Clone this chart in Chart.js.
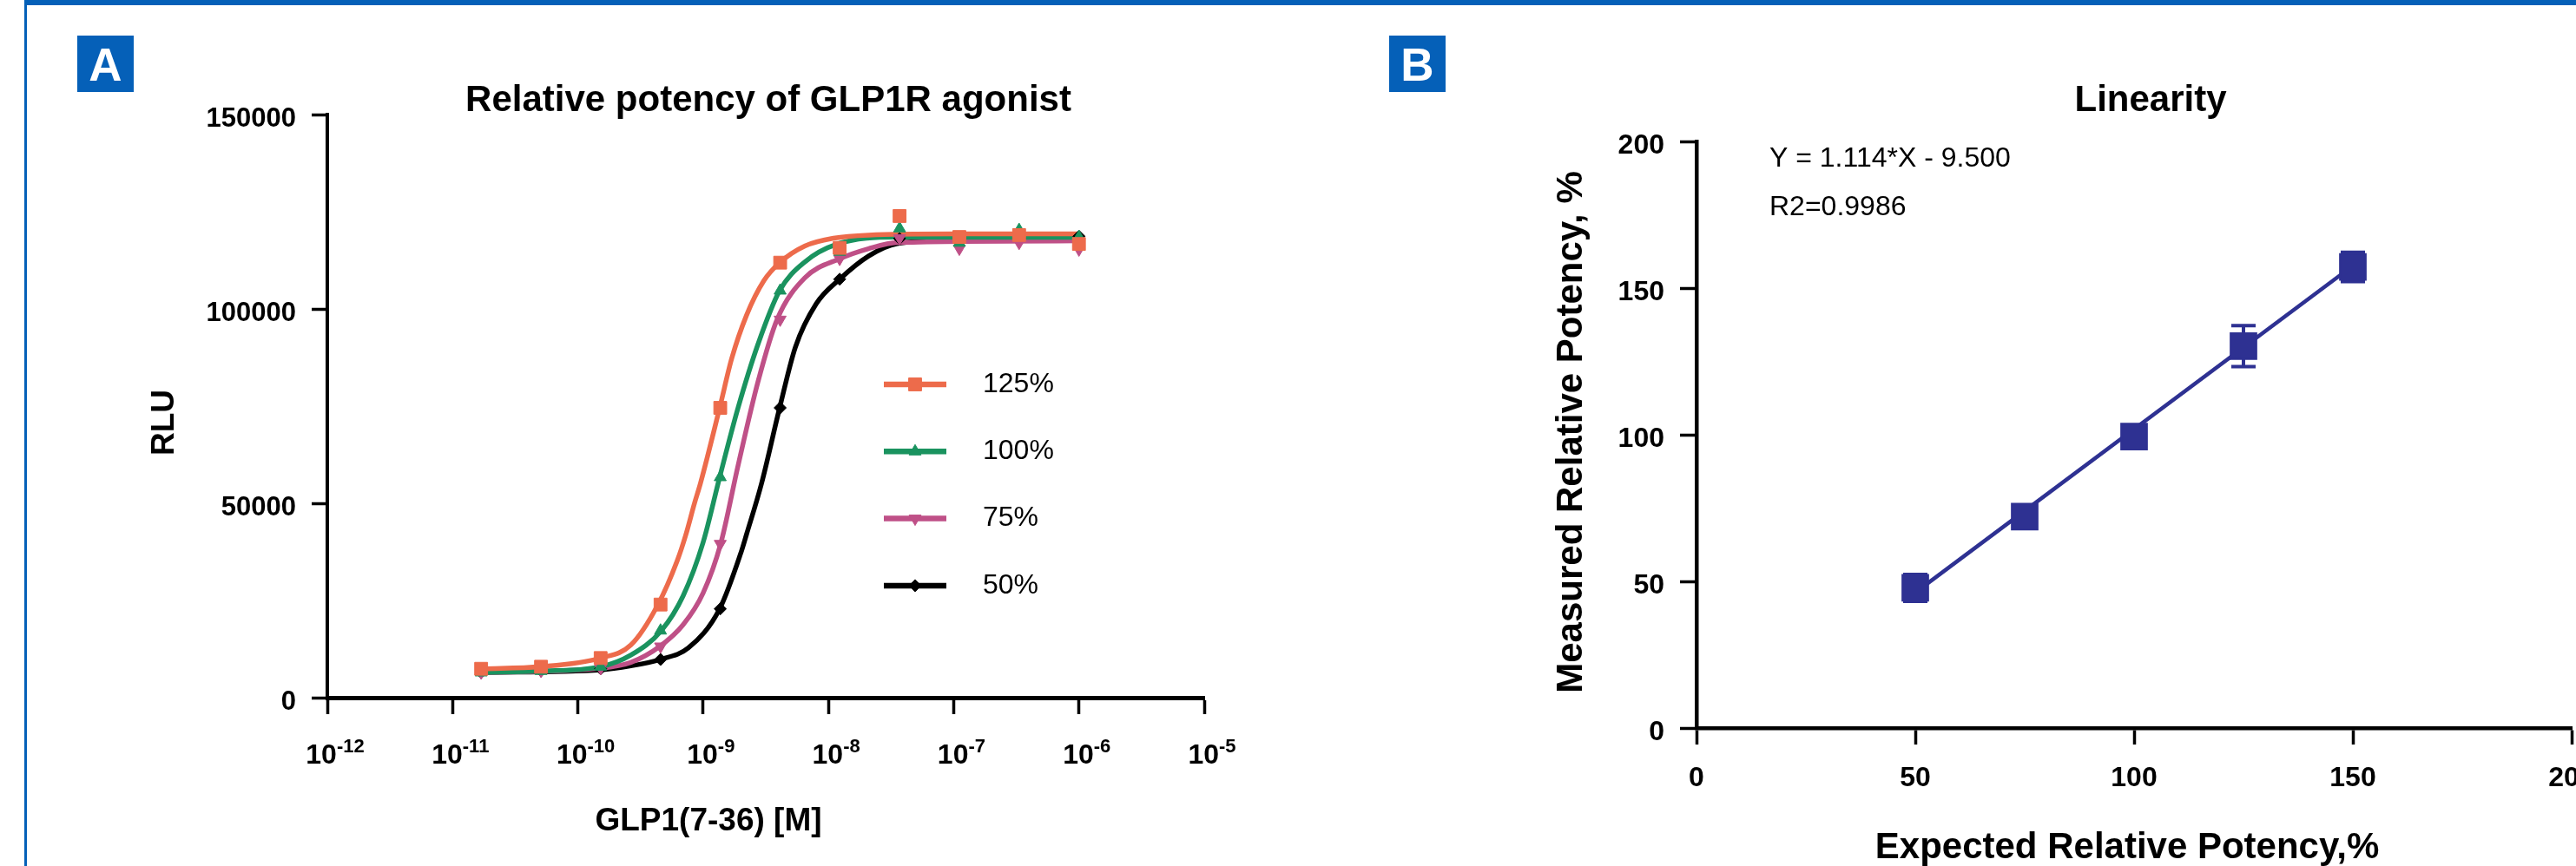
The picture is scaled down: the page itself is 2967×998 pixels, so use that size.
<!DOCTYPE html>
<html>
<head>
<meta charset="utf-8">
<script src="https://cdn.jsdelivr.net/npm/chart.js@4.4.0/dist/chart.umd.min.js"></script>
<style>
  html, body { margin: 0; padding: 0; background: #fff; overflow: hidden; }
  body { width: 2967px; height: 998px; position: relative; font-family: "Liberation Sans", Arial, Helvetica, sans-serif; }
  #topBar { position: absolute; left: 28px; top: 0; width: 2939px; height: 6px; background: #0560b8; }
  #leftBar { position: absolute; left: 28px; top: 0; width: 3px; height: 998px; background: #0560b8; }
  .tag { position: absolute; top: 41px; width: 65px; height: 65px; background: #0560b8; color: #fff;
         font-weight: bold; font-size: 53px; line-height: 67px; text-align: center; }
  #tagA { left: 89px; }
  #tagB { left: 1600px; }
  #chartA { position: absolute; left: 0; top: 0; }
  #chartB { position: absolute; left: 1500px; top: 0; }
</style>
</head>
<body>
<div id="topBar"></div>
<div id="leftBar"></div>
<canvas id="chartA" width="1500" height="998"></canvas>
<canvas id="chartB" width="1600" height="998"></canvas>
<div class="tag" id="tagA">A</div>
<div class="tag" id="tagB">B</div>

<script>
// ==================== DATA : PANEL A (dose response) ====================
const concM = [1.69e-11, 5.08e-11, 1.52e-10, 4.57e-10, 1.37e-9, 4.12e-9, 1.23e-8, 3.70e-8, 1.11e-7, 3.33e-7, 1.0e-6];
const rlu125 = [7430, 7960, 10200, 23950, 74550, 111900, 115700, 123900, 118500, 119000, 116700];
const rlu100 = [6470, 6850, 7960, 17250, 56700, 104700, 114700, 120700, 117000, 120300, 118500];
const rlu75  = [6470, 6900, 7590, 13170, 39570, 97250, 112900, 118200, 115500, 117000, 115300];
const rlu50  = [6470, 6900, 7440, 9820, 22840, 74550, 107650, 118070, 117500, 118200, 118700];

// fitted curves: [concentration, RLU]
const fit125 = [[1.69e-11, 7430], [5.02e-11, 7960], [1.52e-10, 10200], [2.65e-10, 13550], [4.36e-10, 23950],
  [6.19e-10, 35100], [7.26e-10, 41800], [8.53e-10, 50000], [9.53e-10, 55200], [1.355e-9, 74550],
  [1.69e-9, 87200], [2.22e-9, 98360], [3.06e-9, 107300], [4.08e-9, 111900], [6.49e-9, 116200],
  [1.10e-8, 118200], [2.09e-8, 119000], [1.0e-7, 119300], [1.0e-6, 119300]];
const fit100 = [[1.69e-11, 6470], [5.02e-11, 6850], [1.52e-10, 7960], [2.65e-10, 10940], [4.64e-10, 17250],
  [6.92e-10, 26180], [1.0e-9, 39950], [1.355e-9, 56700], [1.90e-9, 74550], [2.74e-9, 90900],
  [4.08e-9, 104700], [6.49e-9, 112100], [1.155e-8, 116600], [3.54e-8, 118450], [1.0e-6, 118400]];
const fit75 = [[1.69e-11, 6470], [1.52e-10, 7590], [2.65e-10, 9080], [4.50e-10, 13170], [6.92e-10, 18750],
  [1.0e-9, 26940], [1.38e-9, 39570], [1.90e-9, 59700], [2.74e-9, 81250], [3.89e-9, 97250],
  [6.49e-9, 108000], [1.23e-8, 112900], [2.09e-8, 115500], [3.54e-8, 117100], [1.0e-6, 117500]];
const fit50 = [[1.69e-11, 6470], [1.52e-10, 7150], [2.65e-10, 8190], [4.50e-10, 9820], [7.62e-10, 12790],
  [1.355e-9, 22840], [1.99e-9, 37000], [2.22e-9, 42000], [2.92e-9, 55000], [4.08e-9, 74550],
  [5.45e-9, 90170], [8.0e-9, 101330], [1.23e-8, 107650], [2.09e-8, 113600], [3.54e-8, 116800],
  [1.0e-7, 117600], [1.0e-6, 117800]];

const seriesLabels = ['125%', '100%', '75%', '50%'];
const xTicksA = [1e-12, 1e-11, 1e-10, 1e-9, 1e-8, 1e-7, 1e-6, 1e-5];
const yTicksA = [0, 50000, 100000, 150000];

// ==================== DATA : PANEL B (linearity) ====================
const expectedPct = [50, 75, 100, 125, 150];
const measuredPct = [47.8, 72.1, 99.4, 130.2, 157.2];
const measuredErr = [4.6, 2, 1.5, 7, 5];
const fitLineX = [50, 150];
const fitLineY = [46.2, 157.6];
const ticksB = [0, 50, 100, 150, 200];

const FONT = '"Liberation Sans", Arial, Helvetica, sans-serif';
Chart.defaults.font.family = FONT;
Chart.defaults.color = '#000';

const COL125 = '#ed6b4b', COL100 = '#1a935f', COL75 = '#bf5087', COL50 = '#000000', NAVY = '#2e3192';

function pointSet(label, ys, color, style, radius, rotation){
    return {
        label: label,
        data: concM.map((x, i) => ({x: x, y: ys[i]})),
        showLine: false,
        pointStyle: style,
        pointRadius: radius,
        pointRotation: rotation || 0,
        pointBackgroundColor: color,
        pointBorderColor: color,
        pointBorderWidth: 1,
        borderColor: color,
        backgroundColor: color,
        order: 0
    };
}
function curveSet(pts, color){
    return {
        data: pts.map(p => ({x: p[0], y: p[1]})),
        borderColor: color,
        borderWidth: 5.5,
        pointRadius: 0,
        cubicInterpolationMode: 'monotone',
        fill: false,
        order: 1
    };
}

function axisGrid(w, len){
    return { drawOnChartArea: false, drawTicks: true, tickLength: len, tickWidth: w, tickColor: '#000' };
}

//  ==================== PANEL A TEXT / LEGEND ====================
const panelAText = {
    id: 'panelAText',
    afterDraw(chart){
        const ctx = chart.ctx;
        const a = chart.chartArea;
        const xs = chart.scales.x;
        ctx.save();
        ctx.fillStyle = '#000';

        // title
        ctx.font = 'bold 42px ' + FONT;
        ctx.textAlign = 'center';
        ctx.textBaseline = 'alphabetic';
        ctx.fillText('Relative potency of GLP1R agonist', a.left + 508, a.top - 4);

        // x title
        ctx.font = 'bold 37px ' + FONT;
        ctx.fillText('GLP1(7-36) [M]', a.left + 439, a.bottom + 153);

        // y title
        ctx.save();
        ctx.translate(a.left - 177, a.top + 355);
        ctx.rotate(-Math.PI / 2);
        ctx.fillText('RLU', 0, 0);
        ctx.restore();

        // x tick labels 10^n
        ctx.textAlign = 'left';
        xTicksA.forEach(v => {
            const px = xs.getPixelForValue(v);
            const exp = String(Math.round(Math.log10(v)));
            ctx.font = 'bold 32px ' + FONT;
            const w1 = ctx.measureText('10').width;
            ctx.font = 'bold 22px ' + FONT;
            const w2 = ctx.measureText(exp).width;
            const x0 = px + 9 - (w1 + w2) / 2;
            ctx.font = 'bold 32px ' + FONT;
            ctx.fillText('10', x0, a.bottom + 76);
            ctx.font = 'bold 22px ' + FONT;
            ctx.fillText(exp, x0 + w1, a.bottom + 63);
        });

        // legend
        const metas = chart.data.datasets.slice(0, 4);
        metas.forEach((ds, i) => {
            const y = a.top + 311 + i * 77.3;
            ctx.strokeStyle = ds.borderColor;
            ctx.lineWidth = 6.5;
            ctx.beginPath();
            ctx.moveTo(a.left + 641, y);
            ctx.lineTo(a.left + 713, y);
            ctx.stroke();
            ctx.fillStyle = ds.borderColor;
            ctx.lineWidth = 1;
            Chart.helpers.drawPoint(ctx, {
                pointStyle: ds.pointStyle, radius: ds.pointRadius,
                rotation: ds.pointRotation, borderWidth: 1
            }, a.left + 677, y);
            ctx.fillStyle = '#000';
            ctx.font = '32px ' + FONT;
            ctx.textBaseline = 'middle';
            ctx.fillText(seriesLabels[i], a.left + 755, y);
            ctx.textBaseline = 'alphabetic';
        });
        ctx.restore();
    }
};

new Chart(document.getElementById('chartA'), {
    type: 'line',
    data: {
        datasets: [
            pointSet(seriesLabels[0], rlu125, COL125, 'rect', 10.5, 0),
            pointSet(seriesLabels[1], rlu100, COL100, 'triangle', 8, 0),
            pointSet(seriesLabels[2], rlu75, COL75, 'triangle', 8, 180),
            pointSet(seriesLabels[3], rlu50, COL50, 'rectRot', 7, 0),
            curveSet(fit125, COL125),
            curveSet(fit100, COL100),
            curveSet(fit75, COL75),
            curveSet(fit50, COL50)
        ]
    },
    options: {
        responsive: false,
        animation: false,
        layout: { padding: { left: 0, top: 132, right: 113, bottom: 0 } },
        plugins: { legend: { display: false }, tooltip: { enabled: false } },
        scales: {
            x: {
                type: 'logarithmic',
                min: 1e-12, max: 1e-5,
                afterBuildTicks: s => { s.ticks = xTicksA.map(v => ({value: v})); },
                afterFit: s => { s.height = 194; },
                border: { color: '#000', width: 5 },
                grid: axisGrid(3.5, 19),
                ticks: { autoSkip: false, callback: () => '' }
            },
            y: {
                min: 0, max: 150000,
                afterBuildTicks: s => { s.ticks = yTicksA.map(v => ({value: v})); },
                afterFit: s => { s.width = 377; },
                border: { color: '#000', width: 4 },
                grid: axisGrid(3.5, 18),
                ticks: { font: { size: 31, weight: 'bold' }, padding: 18, labelOffset: 5, callback: v => String(v) }
            }
        }
    },
    plugins: [panelAText]
});

//  ==================== PANEL B ====================
const panelBDraw = {
    id: 'panelBDraw',
    beforeDatasetsDraw(chart){
        const ctx = chart.ctx;
        const xs = chart.scales.x, ys = chart.scales.y;
        ctx.save();
        ctx.strokeStyle = NAVY;
        ctx.lineWidth = 4;
        expectedPct.forEach((x, i) => {
            const px = xs.getPixelForValue(x);
            const top = ys.getPixelForValue(measuredPct[i] + measuredErr[i]);
            const bot = ys.getPixelForValue(measuredPct[i] - measuredErr[i]);
            ctx.beginPath();
            ctx.moveTo(px, top); ctx.lineTo(px, bot);
            ctx.moveTo(px - 14, top); ctx.lineTo(px + 14, top);
            ctx.moveTo(px - 14, bot); ctx.lineTo(px + 14, bot);
            ctx.stroke();
        });
        ctx.restore();
    },
    afterDraw(chart){
        const ctx = chart.ctx;
        const a = chart.chartArea;
        ctx.save();
        ctx.fillStyle = '#000';
        ctx.textAlign = 'center';
        ctx.textBaseline = 'alphabetic';
        ctx.font = 'bold 42px ' + FONT;
        ctx.fillText('Linearity', a.left + 523, a.top - 35);
        ctx.fillText('Expected Relative Potency,%', a.left + 496, a.bottom + 150);
        ctx.save();
        ctx.translate(a.left - 132, a.top + 335);
        ctx.rotate(-Math.PI / 2);
        ctx.fillText('Measured Relative Potency, %', 0, 0);
        ctx.restore();
        ctx.textAlign = 'left';
        ctx.font = '32px ' + FONT;
        ctx.fillText('Y = 1.114*X - 9.500', a.left + 84, a.top + 29);
        ctx.fillText('R2=0.9986', a.left + 84, a.top + 85);
        ctx.restore();
    }
};

new Chart(document.getElementById('chartB'), {
    type: 'line',
    data: {
        datasets: [
            {
                label: 'Measured',
                data: expectedPct.map((x, i) => ({x: x, y: measuredPct[i]})),
                showLine: false,
                pointStyle: 'rect',
                pointRadius: 21,
                pointBackgroundColor: NAVY,
                pointBorderColor: NAVY,
                pointBorderWidth: 2,
                order: 0
            },
            {
                label: 'Fit',
                data: fitLineX.map((x, i) => ({x: x, y: fitLineY[i]})),
                borderColor: NAVY,
                borderWidth: 4.5,
                pointRadius: 0,
                fill: false,
                order: 1
            }
        ]
    },
    options: {
        responsive: false,
        animation: false,
        layout: { padding: { left: 0, top: 163, right: 138, bottom: 0 } },
        plugins: { legend: { display: false }, tooltip: { enabled: false } },
        scales: {
            x: {
                type: 'linear',
                min: 0, max: 200,
                afterBuildTicks: s => { s.ticks = ticksB.map(v => ({value: v})); },
                afterFit: s => { s.height = 159; },
                border: { color: '#000', width: 4.5 },
                grid: axisGrid(3.5, 19),
                ticks: { font: { size: 32, weight: 'bold' }, padding: 20, autoSkip: false, maxRotation: 0 }
            },
            y: {
                min: 0, max: 200,
                afterBuildTicks: s => { s.ticks = ticksB.map(v => ({value: v})); },
                afterFit: s => { s.width = 454; },
                border: { color: '#000', width: 4.5 },
                grid: axisGrid(3.5, 19),
                ticks: { font: { size: 32, weight: 'bold' }, padding: 18, labelOffset: 5 }
            }
        }
    },
    plugins: [panelBDraw]
});
</script>
</body>
</html>
